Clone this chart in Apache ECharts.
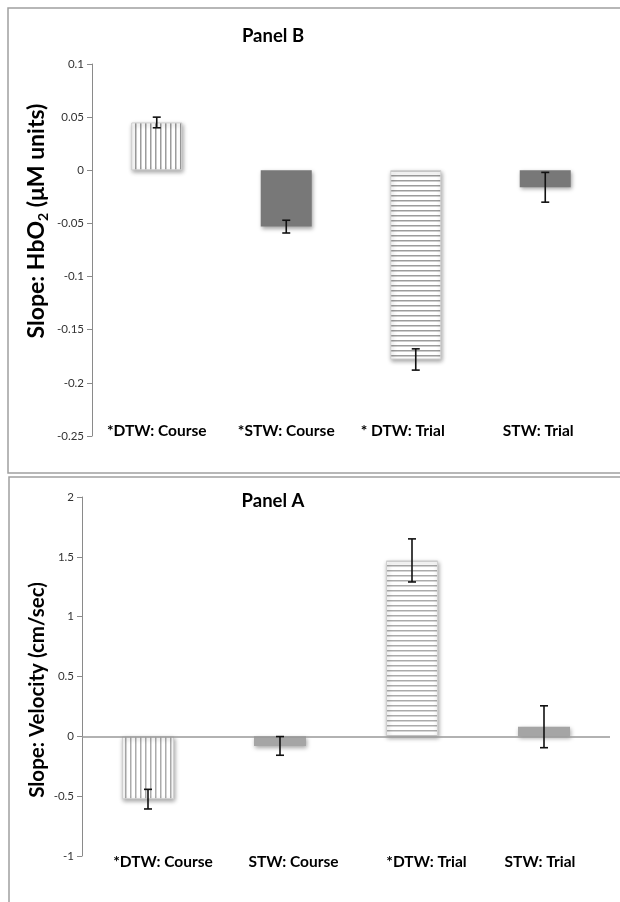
<!DOCTYPE html>
<html>
<head>
<meta charset="utf-8">
<script src="https://cdn.jsdelivr.net/npm/echarts@6/dist/echarts.min.js"></script>
<style>html,body{margin:0;padding:0;background:#fff;}#c{width:620px;height:902px;}</style>
</head>
<body>
<div id="c"></div>
<script>
// Panel B data (HbO2 slope)
const catsB = ['*DTW: Course', '*STW: Course', '* DTW: Trial', 'STW: Trial'];
const valsB = [0.045, -0.053, -0.178, -0.016];
const errB  = [0.005, 0.006, 0.010, 0.014];
const yTicksB = { min: -0.25, max: 0.1, interval: 0.05 };

// Panel A data (Velocity slope)
const catsA = ['*DTW: Course', 'STW: Course', '*DTW: Trial', 'STW: Trial'];
const valsA = [-0.525, -0.08, 1.47, 0.08];
const errA  = [0.082, 0.078, 0.18, 0.175];
const yTicksA = { min: -1, max: 2, interval: 0.5 };

const FONT = 'Lato, "Open Sans", sans-serif';

function makePattern(dir, lineColor) {
  const c = document.createElement('canvas');
  c.width = 5; c.height = 5;
  const g = c.getContext('2d');
  g.fillStyle = '#ffffff';
  g.fillRect(0, 0, 5, 5);
  g.fillStyle = lineColor;
  if (dir === 'v') g.fillRect(0, 0, 1.5, 5);
  else g.fillRect(0, 0, 5, 1.5);
  return { image: c, repeat: 'repeat' };
}

const shadow = { shadowBlur: 4, shadowColor: 'rgba(0,0,0,0.35)', shadowOffsetX: 1, shadowOffsetY: 2 };

function barItems(vals, solid, lineColor) {
  return vals.map((v, i) => {
    let st;
    if (i === 0) st = Object.assign({ color: makePattern('v', lineColor), borderColor: '#d0d0d0', borderWidth: 1 }, shadow);
    else if (i === 2) st = Object.assign({ color: makePattern('h', lineColor), borderColor: '#d0d0d0', borderWidth: 1 }, shadow);
    else st = Object.assign({ color: solid }, shadow);
    return { value: v, itemStyle: st };
  });
}

function errData(vals, errs) {
  return vals.map((v, i) => [i, v - errs[i], v + errs[i]]);
}

function errRender(params, api) {
  const x = api.value(0);
  const lo = api.coord([x, api.value(1)]);
  const hi = api.coord([x, api.value(2)]);
  const hw = 4;
  const st = { stroke: '#111', lineWidth: 1.6 };
  return {
    type: 'group',
    children: [
      { type: 'line', shape: { x1: lo[0], y1: lo[1], x2: hi[0], y2: hi[1] }, style: st },
      { type: 'line', shape: { x1: lo[0] - hw, y1: lo[1], x2: lo[0] + hw, y2: lo[1] }, style: st },
      { type: 'line', shape: { x1: hi[0] - hw, y1: hi[1], x2: hi[0] + hw, y2: hi[1] }, style: st }
    ]
  };
}

const labelPadB = [[0,0,0,0],[0,0,0,0],[0,26,0,0],[0,14,0,0]];
const labelPadA = [[0,0,0,30],[0,0,0,27],[0,0,0,29],[0,8,0,0]];

function catLabel(pads) {
  const rich = {};
  pads.forEach((p, i) => { rich['c' + i] = { padding: p, fontFamily: FONT, fontWeight: 'bold', fontSize: 15.5, color: '#000' }; });
  return {
    formatter: (v, i) => '{c' + i + '|' + v + '}',
    rich: rich,
    interval: 0
  };
}

const chart = echarts.init(document.getElementById('c'), null, { renderer: 'canvas' });

chart.setOption({
  animation: false,
  backgroundColor: '#fff',
  title: [
    { text: 'Panel B', left: 268, top: 22, textAlign: 'center',
      textStyle: { fontFamily: FONT, fontWeight: 'bold', fontSize: 18.5, color: '#000' } },
    { text: 'Panel A', left: 268, top: 487, textAlign: 'center',
      textStyle: { fontFamily: FONT, fontWeight: 'bold', fontSize: 18.5, color: '#000' } }
  ],
  grid: [
    { left: 92, right: 10, top: 64, height: 372 },
    { left: 82, right: 10, top: 497, height: 359 }
  ],
  xAxis: [
    Object.assign({ gridIndex: 0, type: 'category', data: catsB, position: 'bottom',
      axisLine: { show: false, onZero: false }, axisTick: { show: false } },
      { axisLabel: Object.assign({ margin: -13 }, catLabel(labelPadB)) }),
    Object.assign({ gridIndex: 1, type: 'category', data: catsA, position: 'bottom',
      axisLine: { show: false, onZero: false }, axisTick: { show: false } },
      { axisLabel: Object.assign({ margin: -2 }, catLabel(labelPadA)) })
  ],
  yAxis: [
    { gridIndex: 0, type: 'value', min: yTicksB.min, max: yTicksB.max, interval: yTicksB.interval,
      axisLine: { show: true, lineStyle: { color: '#8a8a8a', width: 1 } },
      axisTick: { show: true, length: 5, lineStyle: { color: '#8a8a8a' } },
      splitLine: { show: false },
      axisLabel: { fontFamily: FONT, fontSize: 11.5, color: '#333', margin: 8 } },
    { gridIndex: 1, type: 'value', min: yTicksA.min, max: yTicksA.max, interval: yTicksA.interval,
      axisLine: { show: true, lineStyle: { color: '#8a8a8a', width: 1 } },
      axisTick: { show: true, length: 5, lineStyle: { color: '#8a8a8a' } },
      splitLine: { show: false },
      axisLabel: { fontFamily: FONT, fontSize: 11.5, color: '#333', margin: 8 } }
  ],
  series: [
    { type: 'bar', xAxisIndex: 0, yAxisIndex: 0, barWidth: 51, data: barItems(valsB, '#787878', '#9c9c9c') },
    { type: 'custom', xAxisIndex: 0, yAxisIndex: 0, renderItem: errRender, data: errData(valsB, errB), z: 5 },
    { type: 'bar', xAxisIndex: 1, yAxisIndex: 1, barWidth: 52, data: barItems(valsA, '#a5a5a5', '#ababab'),
      markLine: { silent: true, symbol: 'none', label: { show: false },
        lineStyle: { color: '#999', width: 1.5, type: 'solid' }, data: [{ yAxis: 0 }] } },
    { type: 'custom', xAxisIndex: 1, yAxisIndex: 1, renderItem: errRender, data: errData(valsA, errA), z: 5 }
  ],
  graphic: [
    { type: 'rect', shape: { x: 8, y: 8, width: 640, height: 465 }, style: { fill: 'none', stroke: '#a0a0a0', lineWidth: 1.5 }, silent: true },
    { type: 'rect', shape: { x: 9, y: 477, width: 640, height: 460 }, style: { fill: 'none', stroke: '#a0a0a0', lineWidth: 1.5 }, silent: true },
    { type: 'text', x: 37, y: 221, rotation: Math.PI / 2, silent: true,
      style: { text: '{a|Slope: HbO}{s|2}{a| (μM units)}', align: 'center', verticalAlign: 'middle',
        rich: { a: { fontFamily: FONT, fontWeight: 'bold', fontSize: 23, color: '#000' },
                s: { fontFamily: FONT, fontWeight: 'bold', fontSize: 14, color: '#000', padding: [12, 0, 0, 0] } } } },
    { type: 'text', x: 37, y: 690, rotation: Math.PI / 2, silent: true,
      style: { text: 'Slope: Velocity (cm/sec)', align: 'center', verticalAlign: 'middle',
        fontFamily: FONT, fontWeight: 'bold', fontSize: 20.5, fill: '#000' } }
  ]
});
</script>
</body>
</html>
